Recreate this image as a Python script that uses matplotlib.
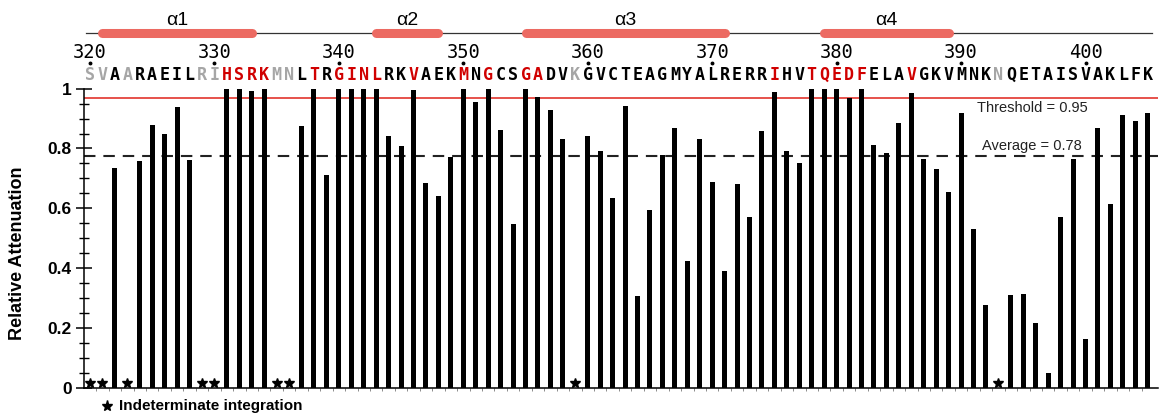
import numpy as np
import matplotlib
matplotlib.use('Agg')
from matplotlib import pyplot as plt
from matplotlib import transforms

plt.rcParams['font.family'] = ['Liberation Sans', 'DejaVu Sans']

# data
first_residue = 320
sequence = 'SVAARAEILRIHSRKMNLTRGINLRKVAEKMNGCSGADVKGVCTEAGMYALRERRIHVTQEDFELAVGKVMNKNQETAISVAKLFK'
nan = np.nan
attenuation = [
    nan, nan, 0.735, nan, 0.757, 0.878, 0.848, 0.937, 0.760, nan,      # 320-329
    nan, 1.0, 1.0, 0.992, 1.0, nan, nan, 0.874, 1.0, 0.712,            # 330-339
    1.0, 1.0, 1.0, 1.0, 0.840, 0.807, 0.994, 0.686, 0.641, 0.773,      # 340-349
    1.0, 0.956, 1.0, 0.861, 0.549, 1.0, 0.971, 0.929, 0.833, nan,      # 350-359
    0.842, 0.790, 0.636, 0.943, 0.307, 0.594, 0.779, 0.868, 0.423, 0.830,  # 360-369
    0.687, 0.390, 0.680, 0.572, 0.860, 0.987, 0.792, 0.753, 1.0, 1.0,  # 370-379
    1.0, 0.970, 1.0, 0.813, 0.784, 0.884, 0.984, 0.764, 0.732, 0.653,  # 380-389
    0.920, 0.531, 0.276, nan, 0.309, 0.313, 0.218, 0.051, 0.572, 0.764,  # 390-399
    0.164, 0.867, 0.613, 0.911, 0.893, 0.917,                          # 400-405
]
helix_names = ['α1', 'α2', 'α3', 'α4']
helix_start = [321, 343, 355, 379]
helix_end = [333, 348, 371, 389]
threshold_line = 0.967
average_line = 0.775
threshold_text = 'Threshold = 0.95'
average_text = 'Average = 0.78'
number_ticks = [320, 330, 340, 350, 360, 370, 380, 390, 400]

residues = first_residue + np.arange(len(sequence))
values = np.array(attenuation, dtype=float)
missing = np.isnan(values)

# figure
fig = plt.figure(figsize=(11.6, 4.13), dpi=100)
ax = fig.add_axes([0.072, 0.0605, 0.926, 0.725])

ax.bar(residues[~missing], values[~missing], width=0.4, color='black', zorder=2)
ax.plot(residues[missing], np.full(missing.sum(), 0.017), linestyle='none',
        marker='*', ms=7.5, color='black', clip_on=False, zorder=3)

ax.axhline(threshold_line, color='#e2332c', lw=1.2, zorder=1)
ax.axhline(average_line, color='#222222', lw=1.5, dashes=(5.5, 3.8), zorder=1)
ax.text(395.7, 0.935, threshold_text, ha='center', va='center', fontsize=10.5, color='#222222')
ax.text(395.7, 0.808, average_text, ha='center', va='center', fontsize=10.5, color='#222222')

# axes
ax.set_xlim(319.48, 405.8)
ax.set_ylim(0, 1.0)
ax.set_yticks([0, 0.2, 0.4, 0.6, 0.8, 1.0])
ax.set_yticklabels(['0', '0.2', '0.4', '0.6', '0.8', '1'], fontweight='bold', fontsize=12.5)
ax.set_yticks(np.arange(0, 1.0, 0.05), minor=True)
ax.tick_params(axis='y', which='major', direction='inout', length=11, width=1.1, pad=3)
ax.tick_params(axis='y', which='minor', direction='inout', length=7, width=1.0)
ax.set_xticks(residues[:-1] + 0.5, minor=True)
ax.set_xticks([])
ax.tick_params(axis='x', which='minor', direction='out', length=2, width=0.6, color='#777777')
ax.set_ylabel('Relative Attenuation', fontweight='bold', fontsize=13)
ax.yaxis.set_label_coords(-0.054, 0.45)
for spine in ['top', 'right']:
    ax.spines[spine].set_visible(False)
ax.spines['left'].set_linewidth(1.1)
ax.spines['bottom'].set_linewidth(1.1)

# sequence letters and residue numbers
for r, aa, v, m in zip(residues, sequence, values, missing):
    if m:
        col = '#a6a6a6'
    elif v > threshold_line:
        col = '#d00000'
    else:
        col = 'black'
    ax.text(r, 1.047, aa, ha='center', va='center', fontsize=12,
            family='DejaVu Sans Mono', fontweight='bold', color=col, clip_on=False)
for n in number_ticks:
    ax.text(n, 1.122, str(n), ha='center', va='center', fontsize=13.5,
            family='DejaVu Sans Mono', color='black', clip_on=False)
    ax.plot([n], [1.086], marker='o', ms=1.8, color='black', clip_on=False)

# secondary structure
trans = transforms.blended_transform_factory(ax.transAxes, ax.transData)
ax.plot([0.002, 0.995], [1.184, 1.184], transform=trans, color='#333333',
        lw=0.9, clip_on=False)
for name, s, e in zip(helix_names, helix_start, helix_end):
    ax.plot([s, e], [1.184, 1.184], color='#ec6a62', lw=6.5,
            solid_capstyle='round', clip_on=False)
    ax.text((s + e) / 2, 1.228, name, ha='center', va='center', fontsize=14, clip_on=False)

# footnote
ax.plot([321.35], [-0.061], marker='*', ms=8, color='black', clip_on=False)
ax.text(322.3, -0.061, 'Indeterminate integration', ha='left', va='center',
        fontsize=11, fontweight='bold', clip_on=False)

fig.savefig('out.png', dpi=100)
